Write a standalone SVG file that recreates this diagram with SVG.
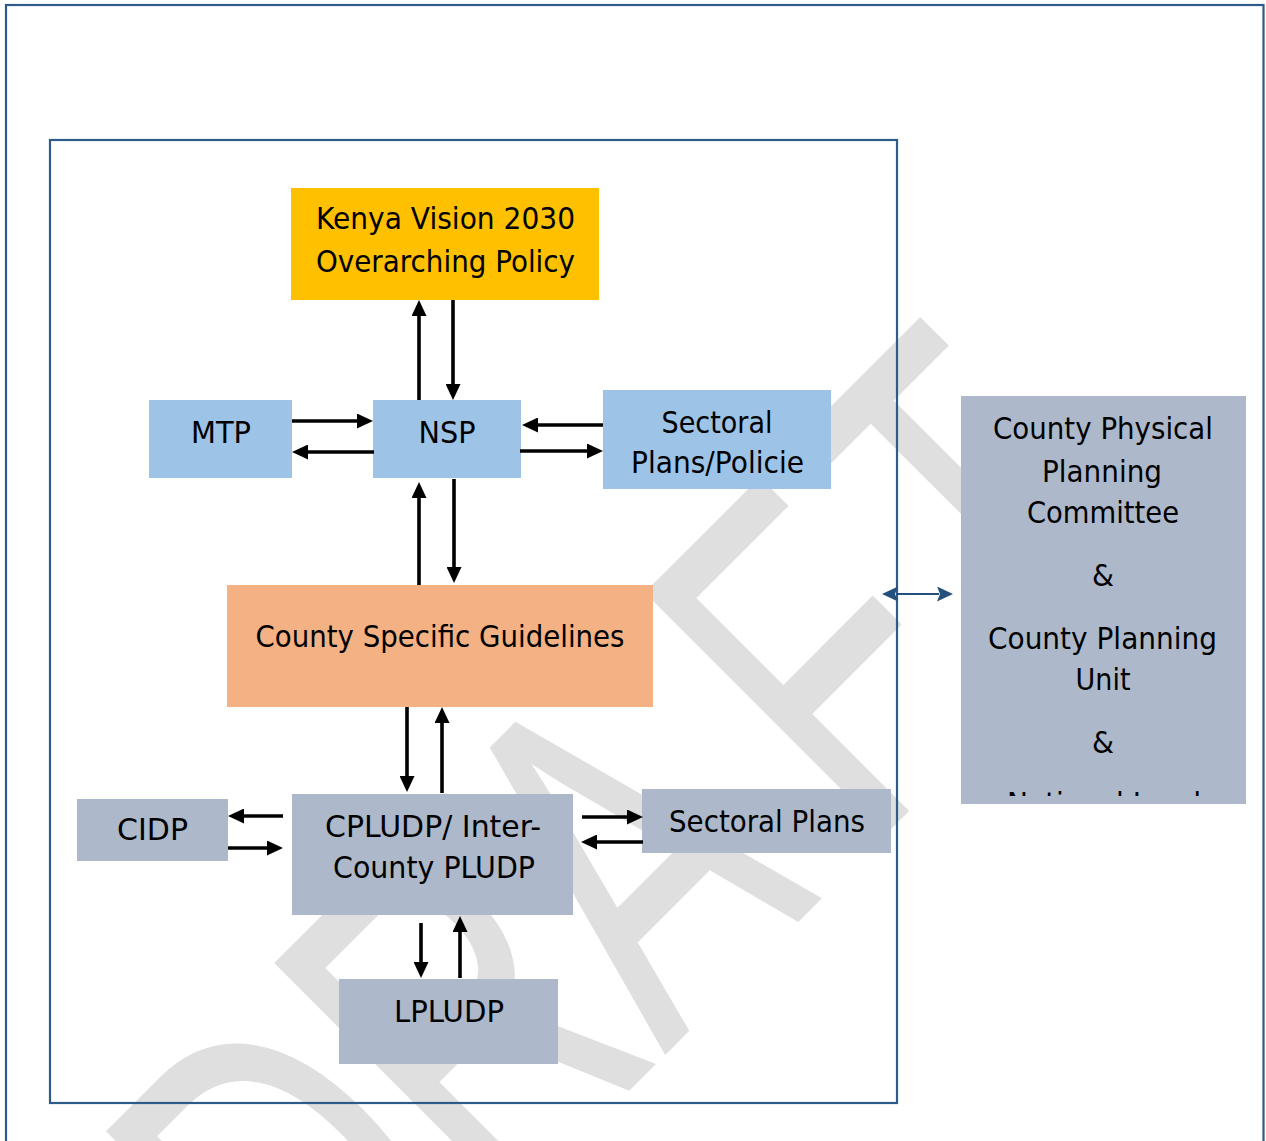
<svg xmlns="http://www.w3.org/2000/svg" width="1266" height="1141" viewBox="0 0 1266 1141">
<style>
.t{font-family:"DejaVu Sans","Liberation Sans",sans-serif;font-size:31px;fill:#000;text-anchor:middle}
.frame{fill:none;stroke:#2e5c8a;stroke-width:2.2}
.blue{fill:#9dc3e6}
.grey{fill:#adb9ca}
.ar{fill:none;stroke:#000;stroke-width:3.6}
.wm{font-family:"Liberation Sans",Arial,sans-serif;font-size:492px;fill:#dfdfdf;stroke:#dfdfdf;stroke-width:3}
</style>
<defs>
<marker id="ah" markerUnits="userSpaceOnUse" markerWidth="16" markerHeight="15" viewBox="0 0 16 15" refX="2" refY="7.5" orient="auto">
<path d="M0,0 L16,7.5 L0,15 z" fill="#000"/>
</marker>
<marker id="bh" markerUnits="userSpaceOnUse" markerWidth="16" markerHeight="15" viewBox="0 0 16 15" refX="2" refY="7.5" orient="auto-start-reverse">
<path d="M0,0 L16,7.5 L0,15 L3,7.5 z" fill="#24507e"/>
</marker>
<clipPath id="clipNL"><rect x="961" y="700" width="285" height="96"/></clipPath>
</defs>
<rect x="0" y="0" width="1266" height="1141" fill="#fff"/>
<g id="watermark">
<text class="wm" transform="translate(859,859) rotate(-45) scale(0.67,1)" x="-1121 -766 -410 16 346" y="0">DRAFT</text>
</g>
<rect class="frame" x="6" y="5" width="1257.5" height="1160"/>
<rect class="frame" x="50" y="140" width="847" height="963"/>
<g id="kenya">
<rect x="291" y="188" width="308" height="112" fill="#ffc000"/>
<text class="t" x="445.5" y="229" textLength="259" lengthAdjust="spacingAndGlyphs">Kenya Vision 2030</text>
<text class="t" x="445.5" y="272" textLength="259" lengthAdjust="spacingAndGlyphs">Overarching Policy</text>
</g>
<g id="mtp">
<rect class="blue" x="149" y="400" width="143" height="78"/>
<text class="t" x="221" y="443" textLength="60" lengthAdjust="spacingAndGlyphs">MTP</text>
</g>
<g id="nsp">
<rect class="blue" x="373" y="400" width="148" height="78"/>
<text class="t" x="447" y="443" textLength="57" lengthAdjust="spacingAndGlyphs">NSP</text>
</g>
<g id="sectoral-policies">
<rect class="blue" x="603" y="390" width="228" height="99"/>
<text class="t" x="717" y="433" textLength="111" lengthAdjust="spacingAndGlyphs">Sectoral</text>
<text class="t" x="717.5" y="473" textLength="173" lengthAdjust="spacingAndGlyphs">Plans/Policie</text>
</g>
<g id="county-guidelines">
<rect x="227" y="585" width="426" height="122" fill="#f4b183"/>
<text class="t" x="440" y="647" textLength="369" lengthAdjust="spacingAndGlyphs">County Specific Guidelines</text>
</g>
<g id="cidp">
<rect class="grey" x="77" y="799" width="151" height="62"/>
<text class="t" x="152.5" y="840" textLength="71" lengthAdjust="spacingAndGlyphs">CIDP</text>
</g>
<g id="cpludp">
<rect class="grey" x="292" y="794" width="281" height="121"/>
<text class="t" x="433" y="837" textLength="216" lengthAdjust="spacingAndGlyphs">CPLUDP/ Inter-</text>
<text class="t" x="434" y="878" textLength="202" lengthAdjust="spacingAndGlyphs">County PLUDP</text>
</g>
<g id="sectoral-plans">
<rect class="grey" x="642" y="789" width="249" height="64"/>
<text class="t" x="767" y="832" textLength="196" lengthAdjust="spacingAndGlyphs">Sectoral Plans</text>
</g>
<g id="lpludp">
<rect class="grey" x="339" y="979" width="219" height="85"/>
<text class="t" x="449" y="1022" textLength="110" lengthAdjust="spacingAndGlyphs">LPLUDP</text>
</g>
<g id="committee">
<rect class="grey" x="961" y="396" width="285" height="408"/>
<text class="t" x="1103" y="439" textLength="220" lengthAdjust="spacingAndGlyphs">County Physical</text>
<text class="t" x="1102" y="482" textLength="120" lengthAdjust="spacingAndGlyphs">Planning</text>
<text class="t" x="1103" y="523" textLength="152" lengthAdjust="spacingAndGlyphs">Committee</text>
<text class="t" x="1103" y="586" textLength="22" lengthAdjust="spacingAndGlyphs">&amp;</text>
<text class="t" x="1102.5" y="649" textLength="229" lengthAdjust="spacingAndGlyphs">County Planning</text>
<text class="t" x="1103" y="690" textLength="55" lengthAdjust="spacingAndGlyphs">Unit</text>
<text class="t" x="1103" y="753" textLength="22" lengthAdjust="spacingAndGlyphs">&amp;</text>
<text class="t" x="1104" y="814" textLength="194" lengthAdjust="spacingAndGlyphs" clip-path="url(#clipNL)">National Land</text>
</g>
<g id="connectors">
<path class="ar" marker-end="url(#ah)" d="M419,400 V314"/>
<path class="ar" marker-end="url(#ah)" d="M453,300 V386"/>
<path class="ar" marker-end="url(#ah)" d="M292,421 H359"/>
<path class="ar" marker-end="url(#ah)" d="M374,452 H306"/>
<path class="ar" marker-end="url(#ah)" d="M603,425 H536"/>
<path class="ar" marker-end="url(#ah)" d="M520,451 H589"/>
<path class="ar" marker-end="url(#ah)" d="M419,585 V496"/>
<path class="ar" marker-end="url(#ah)" d="M454,479 V569"/>
<path class="ar" marker-end="url(#ah)" d="M407,707 V778"/>
<path class="ar" marker-end="url(#ah)" d="M442,793 V721"/>
<path class="ar" marker-end="url(#ah)" d="M283,816 H242"/>
<path class="ar" marker-end="url(#ah)" d="M228,848 H269"/>
<path class="ar" marker-end="url(#ah)" d="M582,817 H629"/>
<path class="ar" marker-end="url(#ah)" d="M643,842 H595"/>
<path class="ar" marker-end="url(#ah)" d="M421,923 V964"/>
<path class="ar" marker-end="url(#ah)" d="M460,978 V930"/>
<path fill="none" stroke="#24507e" stroke-width="2.2" marker-start="url(#bh)" marker-end="url(#bh)" d="M896,594 H939"/>
</g>
</svg>
